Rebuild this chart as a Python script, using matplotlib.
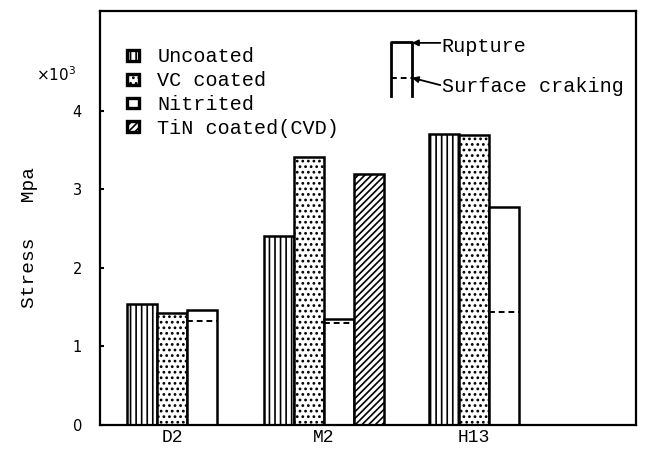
import matplotlib
matplotlib.use("Agg")
import matplotlib.pyplot as plt

# stress (x10^3 MPa)
groups = ["D2", "M2", "H13"]
group_centers = [2.4, 7.47, 12.47]

series_names = ["Uncoated", "VC coated", "Nitrited", "TiN coated(CVD)"]
uncoated = [1.54, 2.40, 3.71]
vc_coated = [1.42, 3.41, 3.69]
nitrited = [1.47, 1.35, 2.78]
tin_coated = [None, 3.19, None]
# surface cracking level inside the nitrited bars
nitrited_crack = [1.32, 1.30, 1.44]

y_ticks = [0, 1, 2, 3, 4]

hatches = ["|||", "...", "", "/////"]
mono = "Liberation Mono"

plt.rcParams["hatch.linewidth"] = 1.2

fig = plt.figure(figsize=(6.46, 4.51), dpi=100)
ax = fig.add_axes([100 / 646, 26 / 451, 536 / 646, 414 / 451])

all_series = [uncoated, vc_coated, nitrited, tin_coated]
width = 1.0
bar_x = {}
handles = []
for s, vals in enumerate(all_series):
    xs, hs = [], []
    for g, c in enumerate(group_centers):
        present = [k for k in range(len(all_series)) if all_series[k][g] is not None]
        if vals[g] is None:
            continue
        i = present.index(s)
        xs.append(c - len(present) / 2 + 0.5 + i)
        hs.append(vals[g])
    bar_x[s] = xs
    b = ax.bar(xs, hs, width=width, color="white", edgecolor="black",
               linewidth=1.8, hatch=hatches[s], label=series_names[s], zorder=2)
    handles.append(b)

# dashed line = surface craking on the nitrited bars
for x, h in zip(bar_x[2], nitrited_crack):
    ax.hlines(h, x - width / 2, x + width / 2, colors="black",
              linestyles=(0, (3, 2)), linewidth=1.4, zorder=3)

ax.set_xlim(0, 536 / 30)
ax.set_ylim(0, 5.27)
ax.set_xticks(group_centers)
ax.set_xticklabels(groups, family=mono, fontsize=13)
ax.set_yticks(y_ticks)
ax.set_yticklabels([str(t) for t in y_ticks], fontsize=10.5)
ax.tick_params(axis="x", length=0, pad=3)
ax.tick_params(axis="y", direction="in", length=3, width=1.5, pad=13)
for sp in ax.spines.values():
    sp.set_linewidth(1.6)

fig.text(56 / 646, 1 - 75 / 451, r"$\times$10$^{3}$", fontsize=11,
         ha="center", va="center")
fig.text(30 / 646, 1 - 237 / 451, "Stress   Mpa", family=mono, fontsize=14,
         rotation=90, ha="center", va="center")

leg = ax.legend(handles=handles, loc="upper left", bbox_to_anchor=(0.05, 0.912),
                frameon=False, prop={"family": mono, "size": 14.5},
                handlelength=0.62, handleheight=0.45, handletextpad=0.9,
                labelspacing=0.24, borderpad=0, borderaxespad=0)
# small key boxes look almost solid black in the original
for h in leg.legend_handles:
    h.set_linewidth(2.4)

# rupture / surface craking key
lx0, lx1 = 0.542, 0.582
ytop, ybot, ydash = 0.926, 0.795, 0.8386
kw = dict(transform=ax.transAxes, color="black", clip_on=False)
ax.plot([lx0, lx0, lx1, lx1], [ybot, ytop, ytop, ybot], linewidth=2, **kw)
ax.plot([lx0, lx1], [ydash, ydash], linewidth=1.4, linestyle=(0, (3, 2)), **kw)
ax.annotate("", xy=(lx1, 0.923), xytext=(0.635, 0.923), xycoords="axes fraction",
            arrowprops=dict(arrowstyle="-|>", color="black", lw=1.3,
                            mutation_scale=9, shrinkA=0, shrinkB=0))
ax.annotate("", xy=(lx1, ydash), xytext=(0.635, 0.821), xycoords="axes fraction",
            arrowprops=dict(arrowstyle="-|>", color="black", lw=1.3,
                            mutation_scale=9, shrinkA=0, shrinkB=0))
ax.text(0.6375, 0.914, "Rupture", transform=ax.transAxes, family=mono,
        fontsize=14.5, va="center", ha="left")
ax.text(0.6375, 0.8176, "Surface craking", transform=ax.transAxes, family=mono,
        fontsize=14.5, va="center", ha="left")

fig.savefig("out.png", dpi=100)
